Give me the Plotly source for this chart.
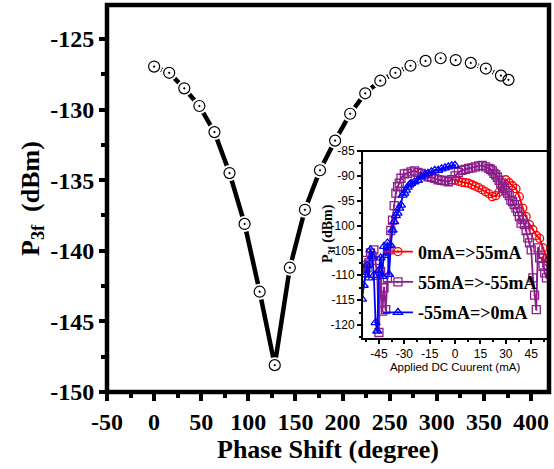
import plotly.graph_objects as go

# Main curve: third-harmonic power versus phase shift
phase_deg = [0, 16, 32, 48, 64, 80, 96, 112, 128, 144, 160, 176, 192, 208, 224,
             240, 256, 272, 288, 304, 320, 336, 352, 368, 376]
p3f_dbm = [-126.96, -127.4, -128.5, -129.75, -131.6, -134.5, -138.1, -142.9, -148.1,
           -141.2, -137.1, -134.3, -132.2, -130.3, -128.85, -127.96, -127.4, -126.9,
           -126.56, -126.37, -126.5, -126.7, -127.1, -127.6, -127.9]

# Inset: DC current sweeps
sweep_up_x = [0, 2, 4, 6, 8, 10, 12, 14, 16, 18, 20, 22, 24, 26, 28, 30, 32, 34, 36,
              38, 40, 42, 44, 46, 48, 50, 52, 54, 55]
sweep_up_y = [-90.9, -91.1, -91.3, -91.4, -91.5, -91.8, -92.1, -92.4, -92.8, -93.2,
              -93.6, -94.2, -94.0, -93.3, -92.2, -90.8, -91.4, -92.0, -92.6, -94.2,
              -96.5, -98.2, -99.8, -100.8, -102.0, -102.6, -104.5, -106.6, -107.3]

sweep_down_x = [55, 54, 53, 52, 51, 50, 49, 48, 47, 46, 45, 44, 43, 42, 41, 40, 39, 38,
                37, 36, 35, 34, 33, 32, 31, 30, 29, 28, 27, 26, 25, 24, 23, 22, 21, 20,
                18, 16, 14, 12, 10, 8, 6, 4, 2, 0, -2, -4, -6, -8, -10, -12, -14, -16,
                -18, -20, -22, -24, -26, -28, -30, -32, -33, -34, -35, -36, -37, -38,
                -39, -40, -41, -42, -43, -44, -45, -46, -47, -48, -49, -50, -51, -52,
                -53, -54, -55]
sweep_down_y = [-108.0, -110.5, -109.5, -108.2, -106.5, -106.5, -104.5, -116.9, -114.0,
                -110.5, -104.9, -103.5, -102.5, -101.0, -99.8, -98.8, -99.5, -98.2,
                -97.2, -96.5, -95.8, -95.2, -94.9, -94.0, -93.5, -93.0, -92.6, -92.2,
                -91.5, -90.9, -90.3, -89.8, -89.5, -89.0, -88.7, -88.5, -88.2, -87.9,
                -88.0, -88.2, -88.4, -88.5, -88.7, -88.9, -89.3, -90.0, -90.8, -91.2,
                -91.0, -90.9, -90.8, -90.5, -90.3, -90.2, -89.8, -89.5, -89.3, -89.0,
                -89.2, -89.5, -89.6, -90.5, -91.5, -92.2, -93.5, -96.0, -98.9, -101.0,
                -104.9, -110.5, -116.9, -112.5, -117.2, -109.2, -121.5, -110.0, -107.0,
                -104.9, -106.2, -105.5, -107.5, -108.5, -107.0, -109.0, -108.0]

sweep_back_x = [-55, -54, -53, -52, -51, -50, -49, -48, -47, -46, -45, -44, -43, -42,
                -41, -40, -39, -38, -37, -36, -35, -34, -33, -32, -31, -30, -29, -28,
                -27, -26, -24, -22, -20, -18, -16, -14, -12, -10, -8, -6, -4, -2, 0]
sweep_back_y = [-114.8, -112.0, -109.9, -108.0, -110.5, -104.9, -106.2, -110.0, -119.5,
                -121.2, -109.0, -106.5, -110.2, -104.2, -106.0, -103.5, -109.8, -104.0,
                -100.9, -99.2, -98.0, -97.5, -96.5, -95.9, -93.9, -93.5, -92.9, -92.3,
                -91.8, -91.5, -91.2, -90.9, -90.2, -89.8, -89.5, -89.2, -88.9, -88.9,
                -88.6, -88.4, -88.2, -88.0, -87.9]

legend_names = ["0mA=>55mA", "55mA=>-55mA", "-55mA=>0mA"]
sweep_colors = ["#FF0000", "#8B1E8B", "#0000FF"]

# tick positions and their printed labels (plain hyphen minus)
main_xticks = [-50, 0, 50, 100, 150, 200, 250, 300, 350, 400]
main_yticks = [-150, -145, -140, -135, -130, -125]
inset_xticks = [-45, -30, -15, 0, 15, 30, 45]
inset_yticks = [-120, -115, -110, -105, -100, -95, -90, -85]


def labels(values):
    return [str(v) for v in values]


serif = "Liberation Serif"
sans = "Liberation Sans"

# inset placement (paper coordinates)
inset_x = [0.577, 0.998]
inset_y = [0.137, 0.623]

fig = go.Figure()

# main curve: thick line, white halo around each point, open circles with a centre dot
fig.add_trace(go.Scatter(x=phase_deg, y=p3f_dbm, mode="lines",
                         line=dict(color="black", width=4.5), showlegend=False,
                         xaxis="x", yaxis="y"))
fig.add_trace(go.Scatter(x=phase_deg, y=p3f_dbm, mode="markers",
                         marker=dict(symbol="circle", size=16, color="white",
                                     line=dict(width=0)),
                         showlegend=False, xaxis="x", yaxis="y"))
fig.add_trace(go.Scatter(x=phase_deg, y=p3f_dbm, mode="markers",
                         marker=dict(symbol="circle-open-dot", size=11, color="black",
                                     line=dict(width=1.2)),
                         showlegend=False, xaxis="x", yaxis="y"))

# inset sweeps
sweeps = [(sweep_up_x, sweep_up_y, "circle-open-dot"),
          (sweep_down_x, sweep_down_y, "square-open-dot"),
          (sweep_back_x, sweep_back_y, "triangle-up-open-dot")]
for i, (sx, sy, sym) in enumerate(sweeps):
    fig.add_trace(go.Scatter(x=sx, y=sy, mode="lines+markers", name=legend_names[i],
                             legendgroup=f"g{i}",
                             line=dict(color=sweep_colors[i], width=1.8),
                             marker=dict(symbol=sym, size=8, color=sweep_colors[i],
                                         line=dict(width=1.3)),
                             xaxis="x2", yaxis="y2"))

axis_font = dict(family=serif, size=24, color="black", weight="bold")
inset_font = dict(family=sans, size=12, color="black")

fig.update_layout(
    template="none",
    width=554, height=469,
    margin=dict(l=107, r=5, t=5, b=77),
    paper_bgcolor="white", plot_bgcolor="white",
    xaxis=dict(domain=[0, 1], range=[-50, 419], tickvals=main_xticks,
               ticktext=labels(main_xticks), automargin=False,
               showgrid=False, zeroline=False, showline=False,
               ticks="outside", ticklen=8, tickwidth=4,
               tickcolor="#000000", tickfont=axis_font,
               minor=dict(dtick=25, tick0=-50, ticks="outside", ticklen=5, tickwidth=4,
                          tickcolor="#000000", showgrid=False),
               title=dict(text="<b>Phase Shift (degree)</b>",
                          font=dict(family=serif, size=26, color="black"), standoff=5)),
    yaxis=dict(domain=[0, 1], range=[-150, -122.6], tickvals=main_yticks,
               ticktext=labels(main_yticks), automargin=False,
               showgrid=False, zeroline=False, showline=False,
               ticks="outside", ticklen=7, tickwidth=4,
               tickcolor="#000000", tickfont=axis_font,
               minor=dict(dtick=2.5, tick0=-150, ticks="outside", ticklen=5, tickwidth=4,
                          tickcolor="#000000", showgrid=False),
               title=dict(text="<b>P<sub>3f</sub>  (dBm)</b>",
                          font=dict(family=serif, size=26, color="black"), standoff=3)),
    xaxis2=dict(domain=inset_x, anchor="y2", range=[-55, 55],
                tickvals=inset_xticks, ticktext=labels(inset_xticks), automargin=False,
                showgrid=False, zeroline=False, showline=False,
                ticks="outside", ticklen=4,
                tickwidth=1.5, tickcolor="#000000", tickfont=inset_font,
                minor=dict(dtick=7.5, tick0=-45, ticks="outside", ticklen=2,
                           tickwidth=1.5, tickcolor="#000000", showgrid=False),
                title=dict(text="Applied DC Cuurent (mA)",
                           font=dict(family=sans, size=11.5, color="black"), standoff=2)),
    yaxis2=dict(domain=inset_y, anchor="x2", range=[-122.8, -85],
                tickvals=inset_yticks, ticktext=labels(inset_yticks), automargin=False,
                showgrid=False, zeroline=False, showline=False,
                ticks="outside", ticklen=4,
                tickwidth=1.5, tickcolor="#000000", tickfont=inset_font,
                minor=dict(dtick=2.5, tick0=-120, ticks="outside", ticklen=2,
                           tickwidth=1.5, tickcolor="#000000", showgrid=False)),
    legend=dict(x=0.613, y=0.41, xanchor="left", yanchor="top",
                bgcolor="rgba(0,0,0,0)", borderwidth=0, tracegroupgap=4,
                traceorder="grouped",
                font=dict(family=serif, size=18, color="black", weight="bold"),
                itemsizing="trace"),
    shapes=[
        # frames around the main plot and the inset (paper-referenced, so not clipped)
        dict(type="rect", xref="paper", yref="paper", x0=0, x1=1, y0=0, y1=1,
             line=dict(color="#000000", width=4.5), fillcolor="rgba(0,0,0,0)",
             layer="above"),
        dict(type="rect", xref="paper", yref="paper", x0=inset_x[0], x1=inset_x[1],
             y0=inset_y[0], y1=inset_y[1],
             line=dict(color="#000000", width=2), fillcolor="rgba(0,0,0,0)",
             layer="above"),
    ],
    annotations=[
        # inset y-axis title, set close to the inset tick labels
        dict(text="<b>P<sub>3f</sub> (dBm)</b>", textangle=-90, showarrow=False,
             xref="paper", yref="paper", x=(328 - 107) / 442, y=(392 - 234) / 387,
             xanchor="center", yanchor="middle",
             font=dict(family=serif, size=14, color="black")),
    ],
)

fig.write_html("out.html")
